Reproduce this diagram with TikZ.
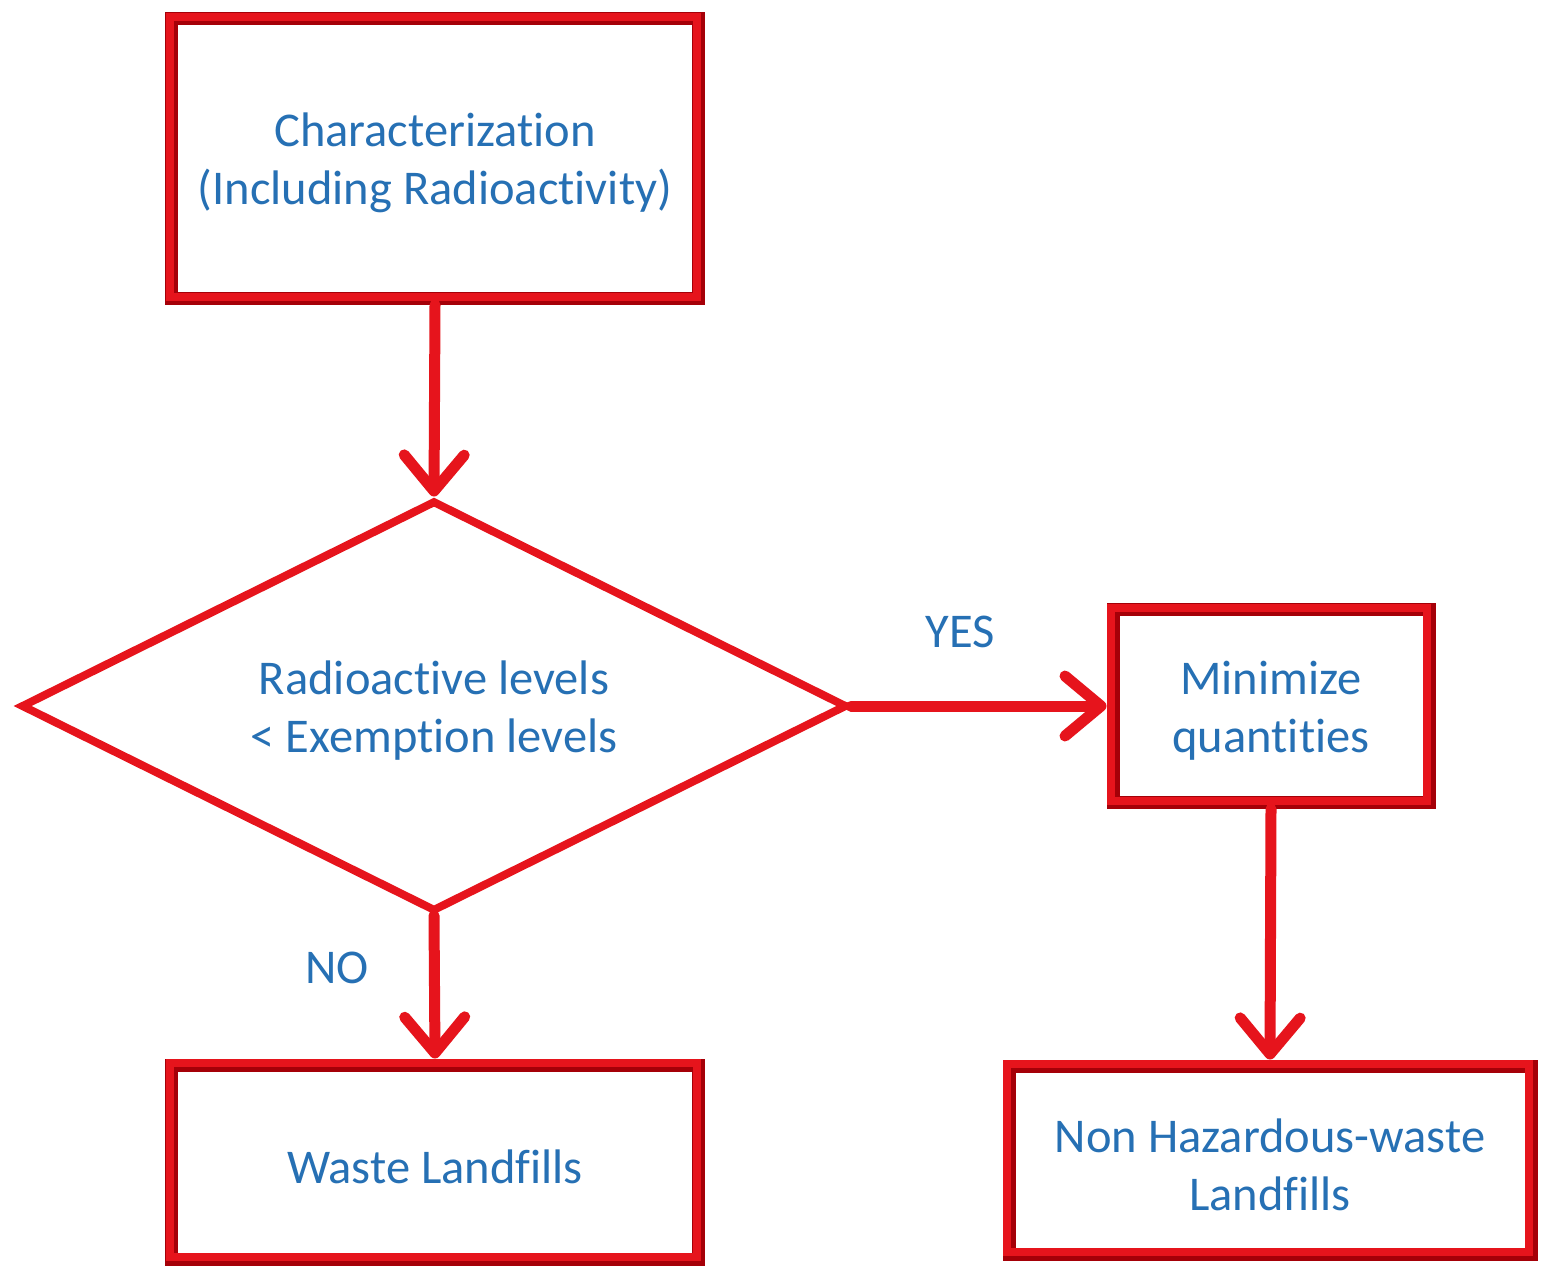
\documentclass[tikz,border=0pt]{standalone}
\usepackage{fontspec}
\setmainfont[Ligatures=NoCommon]{Carlito}
\usetikzlibrary{arrows.meta,shapes.geometric,shadows}
\definecolor{frameRed}{RGB}{230,20,28}
\definecolor{frameDark}{RGB}{165,0,8}
\definecolor{txtBlue}{RGB}{38,112,180}
\newcommand\tup{\rule{0pt}{43pt}}
\tikzset{
  procbox/.style={rectangle, draw=frameDark, line width=13pt, fill=white,
    text=txtBlue, align=center, font=\fontsize{48.5}{58}\selectfont,
    drop shadow={shadow xshift=4pt, shadow yshift=-4pt, opacity=0.22, fill=black},
    postaction={draw=frameRed, line width=8pt,
      transform canvas={xshift=-2pt, yshift=2pt}}},
  decbox/.style={diamond, aspect=2, draw=frameRed, line width=8pt, fill=white,
    text=txtBlue, align=center, font=\fontsize{48.5}{58}\selectfont, inner sep=0pt},
  flow/.style={draw=frameRed, line width=11pt, line cap=round,
    -{Straight Barb[length=36pt, width=60pt, round]}},
  lbl/.style={text=txtBlue, font=\fontsize{48.5}{58}\selectfont}
}
\begin{document}
\begin{tikzpicture}[x=1pt,y=-1pt]
\fill[white] (0,0) rectangle (1544,1270);
\useasboundingbox (0,0) rectangle (1544,1270);
\node[procbox, minimum width=527pt, minimum height=280pt] (char) at (435,158.5)
  {\tup Characterization\\(Including Radioactivity)};
\node[decbox, minimum width=826pt, minimum height=411pt] (dec) at (434,706)
  {\tup Radioactive levels\\< Exemption levels};
\node[procbox, minimum width=316pt, minimum height=193pt] (mini) at (1271,706)
  {\tup Minimize\\quantities};
\node[procbox, minimum width=527pt, minimum height=194pt] (waste) at (435,1162)
  {\tup Waste Landfills};
\node[procbox, minimum width=522pt, minimum height=188pt] (nonhaz) at (1270,1160)
  {\tup Non Hazardous-waste\\Landfills};
\node[lbl] (yes) at (960,632) {YES};
\node[lbl] (no) at (337,968) {NO};
\draw[flow] (char.south) -- (dec.north);
\draw[flow] (dec.east) -- (mini.west);
\draw[flow] (dec.south) -- (waste.north);
\draw[flow] (mini.south) -- (nonhaz.north);
\end{tikzpicture}
\end{document}
